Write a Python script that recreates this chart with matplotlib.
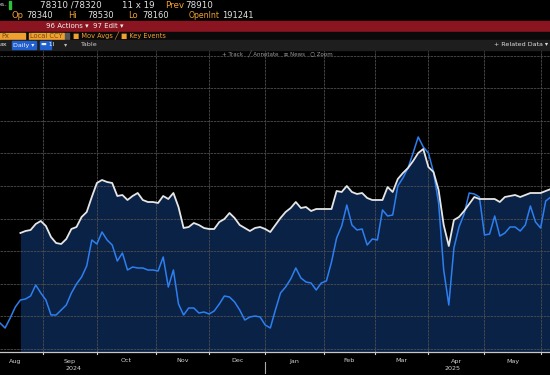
import numpy as np
import pandas as pd
import matplotlib
matplotlib.use("Agg")
import matplotlib.pyplot as plt
from matplotlib.patches import Rectangle
from matplotlib import transforms

# ---------------- data (every 2nd trading day) ----------------
start_date = "2024-08-08"
n_days = 217
white_vals = [np.nan, np.nan, np.nan, np.nan,
    119, 121, 122, 128, 131, 126, 115, 109, 108, 113, 123, 125, 135, 140, 155, 169,
    172, 170, 169, 156, 157, 152, 156, 159, 152, 150, 150, 149, 156, 153, 159, 145,
    124, 125, 129, 127, 124, 123, 123, 130, 133, 139, 134, 127, 124, 121, 124, 125,
    123, 120, 127, 134, 140, 144, 150, 144, 145, 141, 143, 143, 143, 143, 161, 160,
    166, 160, 158, 159, 154, 152, 152, 152, 165, 160, 173, 179, 184, 191, 199, 203,
    185, 180, 162, 127, 106, 132, 135, 141, 148, 155, 153, 153, 153, 153, 150, 155,
    156, 157, 155, 157, 159, 159, 159, 161, 163]
blue_vals = [
    29, 24, 34, 45, 52, 53, 56, 67, 59, 52, 37, 37, 42, 47, 59, 68, 75, 86, 112, 108,
    120, 112, 107, 91, 99, 82, 85, 84, 84, 82, 82, 81, 95, 65, 82, 48, 37, 44, 44, 39,
    40, 38, 41, 48, 56, 55, 50, 42, 32, 35, 36, 35, 27, 24, 42, 59, 65, 73, 84, 74,
    70, 69, 62, 69, 71, 90, 114, 126, 147, 127, 122, 123, 107, 113, 112, 142, 136, 137,
    166, 174, 184, 199, 215, 205, 199, 180, 149, 82, 47, 104, 125, 138, 159, 158, 155,
    117, 118, 136, 116, 119, 125, 125, 121, 127, 146, 130, 124, 151, 155]
month_labels = ["Aug", "Sep", "Oct", "Nov", "Dec", "Jan", "Feb", "Mar", "Apr", "May"]
year_labels = ["2024", "2025"]

# ---------------- x positions in trading-day index ----------------
days = pd.bdate_range(start_date, periods=n_days)
sample_days = days[::2]
x = np.array([days.get_loc(d) for d in sample_days], dtype=float)
white = np.array(white_vals, dtype=float)
blue = np.array(blue_vals, dtype=float)
n = min(len(x), len(white), len(blue))
x, white, blue = x[:n], white[:n], blue[:n]

ext_days = pd.bdate_range("2024-08-01", "2025-06-30")
base = ext_days.get_loc(days[0])
ext_idx = np.arange(len(ext_days)) - base
month_key = ext_days.to_period("M")
starts = [ext_idx[np.argmax(month_key == p)] for p in month_key.unique()]
bounds = starts[1:]            # Sep .. Jun boundaries
mids = [(starts[i] + starts[i + 1]) / 2 for i in range(len(starts) - 1)]

BG = "#000000"
FILL = "#0a2246"
BLUE = "#2d7ff0"
WHITE = "#e6e6e6"
GRID = "#4d4d4d"
ORANGE = "#f0a030"

fig = plt.figure(figsize=(5.5, 3.75), dpi=100, facecolor=BG)

# ---------------- chart ----------------
ax = fig.add_axes([0, 23 / 375, 1, 302 / 375], facecolor=BG)
ax.set_xlim(0, 550 / 2.55)
ax.set_ylim(0, 302)
ax.fill_between(x, white, 0, where=~np.isnan(white), color=FILL, lw=0, zorder=1)
for yy in np.arange(3, 300, 32.6):
    ax.axhline(yy, color=GRID, lw=0.6, zorder=2, ls=(0, (3, 1)))
for b in bounds:
    ax.axvline(b, color=GRID, lw=0.6, zorder=2, ls=(0, (3, 1)))
ax.plot(x, blue, color=BLUE, lw=1.1, zorder=3)
ax.plot(x, white, color=WHITE, lw=1.3, zorder=4)
for s in ax.spines.values():
    s.set_visible(False)
ax.set_xticks([])
ax.set_yticks([])
ax.axhline(0, color="#c8c8c8", lw=0.9, zorder=5, clip_on=False)

trans = transforms.blended_transform_factory(ax.transData, fig.transFigure)
for lab, m in zip(month_labels, mids):
    ax.text(m, 1 - 361 / 375, lab, transform=trans, color="#d0d0d0",
            fontsize=4.6, ha="center", va="center", family="DejaVu Sans")
for b in bounds:
    ax.plot([b, b], [1 - 352 / 375, 1 - 354 / 375], transform=trans,
            color="#d0d0d0", lw=0.8, clip_on=False)
yr_pos = [mids[1] + 1.5, mids[8] - 1.5]
for lab, p in zip(year_labels, yr_pos):
    ax.text(p, 1 - 369 / 375, lab, transform=trans, color="#d0d0d0",
            fontsize=4.6, ha="center", va="center", family="DejaVu Sans")
ybound = bounds[4]
ax.plot([ybound, ybound], [1 - 362 / 375, 1 - 373 / 375], transform=trans,
        color="#aaaaaa", lw=0.8, clip_on=False)

# ---------------- header overlay ----------------
hd = fig.add_axes([0, 0, 1, 1], facecolor="none")
hd.set_xlim(0, 550)
hd.set_ylim(375, 0)
hd.axis("off")

def t(xp, yp, s, c="#e0e0e0", fs=6.0, **kw):
    hd.text(xp, yp, s, color=c, fontsize=fs, va="center", ha=kw.pop("ha", "left"),
            family="DejaVu Sans", **kw)

# row 1
hd.add_patch(Rectangle((9, 1), 1.5, 8, color="#2fbf3f"))
t(0, 5, "e..", fs=4.5)
t(40, 5, "78310 /78320", fs=6.3)
t(122, 5, "11 x 19", fs=6.3)
t(165, 5, "Prev", c=ORANGE, fs=6.3)
t(185, 5, "78910", fs=6.3)
# row 2
t(12, 15.5, "Op", c=ORANGE)
t(26, 15.5, "78340")
t(68, 15.5, "Hi", c=ORANGE)
t(87, 15.5, "78530")
t(128, 15.5, "Lo", c=ORANGE)
t(142, 15.5, "78160")
t(189, 15.5, "OpenInt", c=ORANGE, fs=5.6)
t(222, 15.5, "191241")
# row 3 red bar
hd.add_patch(Rectangle((0, 21), 550, 11, color="#8a1420"))
t(46, 26.5, "96 Actions \u25be", c="#f0f0f0", fs=5.0)
t(93, 26.5, "97 Edit \u25be", c="#f0f0f0", fs=5.0)
# row 4
hd.add_patch(Rectangle((0, 32), 550, 8, color="#0a0a0a"))
hd.add_patch(Rectangle((0, 32.5), 25, 7, color=ORANGE))
t(1, 36, "Px", c="#7a4a00", fs=4.8)
hd.add_patch(Rectangle((29, 32.5), 35, 7, color=ORANGE))
t(30, 36, "Local CCY", c="#7a4a00", fs=4.8)
hd.add_patch(Rectangle((65, 32.5), 4, 7, color="#555555"))
t(73, 36, "\u25a0 Mov Avgs \u2571", c=ORANGE, fs=4.8)
t(121, 36, "\u25a0 Key Events", c=ORANGE, fs=4.8)
# row 5
hd.add_patch(Rectangle((0, 40), 550, 10, color="#1e1e1e"))
t(0, 45, "ax", fs=4.6)
hd.add_patch(Rectangle((12, 41), 24, 8, color="#1f5fcf"))
t(13, 45, "Daily \u25be", c="#f0f0f0", fs=4.6)
hd.add_patch(Rectangle((40, 41), 11, 8, color="#1f5fcf"))
t(41, 45, "\u25ac 1I", c="#f0f0f0", fs=4.4)
t(64, 45, "\u25be", c="#bbbbbb", fs=4.6)
t(80, 45, "Table", c="#cccccc", fs=4.6)
t(548, 45, "+ Related Data \u25be", c="#dddddd", fs=4.6, ha="right")
# row 6
t(222, 54, "+ Track   \u2571 Annotate   \u2261 News   \u25cb Zoom", c="#9a9a9a", fs=4.0)

fig.savefig("out.png", dpi=100, facecolor=BG)
